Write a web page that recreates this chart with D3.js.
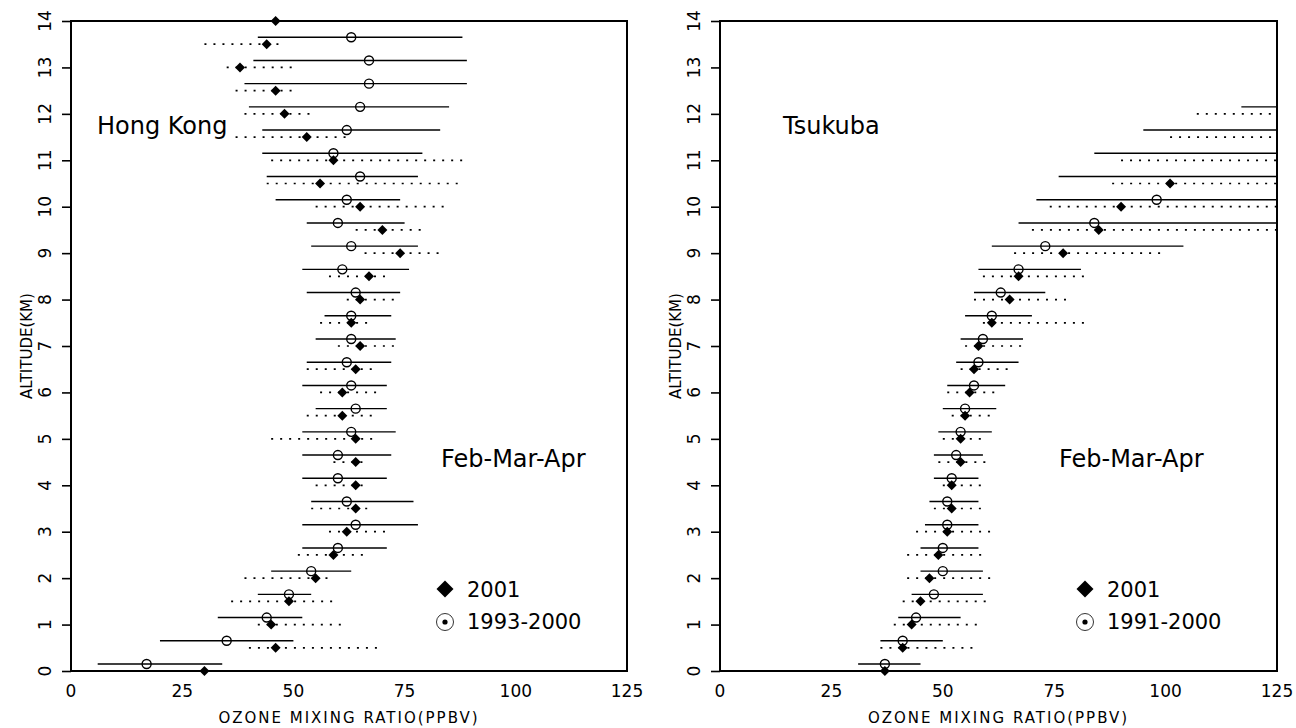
<!DOCTYPE html>
<html lang="en">
<head>
    <meta charset="UTF-8">
    <title>Ozone profiles Hong Kong / Tsukuba</title>
    <script src="https://cdn.jsdelivr.net/npm/d3@7"></script>
    <style>
        * { margin: 0; padding: 0; }
        body { background: #fff; }
        text { font-family: "DejaVu Sans", sans-serif; fill: #000; }
    </style>
</head>
<body>
<script>
    // altitude levels (km)
    const altitudes = [0, 0.5, 1, 1.5, 2, 2.5, 3, 3.5, 4, 4.5, 5, 5.5, 6, 6.5, 7, 7.5, 8, 8.5, 9, 9.5, 10, 10.5, 11, 11.5, 12, 12.5, 13, 13.5, 14];

    // Hong Kong, 1993-2000 mean and range
    const hkMeanClim = [17, 35, 44, 49, 54, 60, 64, 62, 60, 60, 63, 64, 63, 62, 63, 63, 64, 61, 63, 60, 62, 65, 59, 62, 65, 67, 67, 63, null];
    const hkLowClim  = [6, 20, 33, 42, 45, 52, 52, 54, 52, 52, 52, 55, 52, 53, 55, 57, 53, 52, 54, 53, 46, 44, 43, 43, 40, 39, 41, 42, null];
    const hkHighClim = [34, 50, 52, 54, 63, 71, 78, 77, 71, 72, 73, 71, 71, 72, 73, 72, 74, 76, 78, 75, 74, 78, 79, 83, 85, 89, 89, 88, null];
    // Hong Kong, 2001
    const hkMean2001 = [30, 46, 45, 49, 55, 59, 62, 64, 64, 64, 64, 61, 61, 64, 65, 63, 65, 67, 74, 70, 65, 56, 59, 53, 48, 46, 38, 44, 46];
    const hkLow2001  = [null, 40, 42, 36, 39, 51, 58, 54, 55, 59, 45, 53, 56, 53, 60, 56, 62, 58, 66, 64, 55, 44, 45, 37, 39, 37, 35, 30, null];
    const hkHigh2001 = [null, 69, 62, 60, 59, 66, 72, 68, 67, 66, 69, 68, 70, 68, 74, 68, 74, 72, 83, 80, 84, 88, 89, 63, 54, 51, 50, 48, null];

    // Tsukuba, 1991-2000 mean and range
    const tkMeanClim = [37, 41, 44, 48, 50, 50, 51, 51, 52, 53, 54, 55, 57, 58, 59, 61, 63, 67, 73, 84, 98, 130, 135, 140, 150, null, null, null, null];
    const tkLowClim  = [31, 36, 40, 43, 45, 45, 46, 47, 48, 48, 49, 50, 51, 53, 54, 55, 57, 58, 61, 67, 71, 76, 84, 95, 117, null, null, null, null];
    const tkHighClim = [45, 50, 54, 59, 59, 58, 58, 58, 58, 59, 61, 62, 64, 67, 68, 70, 73, 81, 104, 140, 140, 180, 185, 185, 185, null, null, null, null];
    // Tsukuba, 2001
    const tkMean2001 = [37, 41, 43, 45, 47, 49, 51, 52, 52, 54, 54, 55, 56, 57, 58, 61, 65, 67, 77, 85, 90, 101, 128, 130, 135, null, null, null, null];
    const tkLow2001  = [null, 36, 39, 41, 42, 42, 44, 48, 50, 49, 50, 52, 51, 54, 55, 59, 57, 59, 66, 70, 74, 88, 90, 101, 107, null, null, null, null];
    const tkHigh2001 = [null, 57, 58, 60, 61, 59, 61, 60, 59, 61, 59, 61, 63, 66, 69, 83, 79, 83, 100, 140, 140, 140, 170, 170, 170, null, null, null, null];

    const xTicks = [0, 25, 50, 75, 100, 125];
    const yTicks = [0, 1, 2, 3, 4, 5, 6, 7, 8, 9, 10, 11, 12, 13, 14];

    const width = 1296, height = 728;
    const plotTop = 21, plotBottom = 671;
    const svg = d3.select("body").append("svg").attr("width", width).attr("height", height)
        .style("display", "block");

    const diamond = (r) => d3.symbol(d3.symbolDiamond2, Math.pow(r / 0.62625, 2))();
    const xScales = [];

    function drawPanel(p) {
        const x = d3.scaleLinear().domain([0, 125]).range([p.x0, p.x1]);
        const y = d3.scaleLinear().domain([0, 14]).range([plotBottom, plotTop]);
        xScales.push(x);
        const g = svg.append("g");

        // y axis: outward ticks, rotated labels
        const ya = g.append("g").attr("transform", `translate(${p.x0},0)`)
            .call(d3.axisLeft(y).tickValues(yTicks).tickSize(9).tickSizeOuter(0).tickFormat(() => ""));
        ya.select(".domain").remove();
        ya.selectAll(".tick line").attr("stroke", "#000").attr("stroke-width", 1.6);
        g.append("g").selectAll("text")
            .data(yTicks)
            .join("text")
            .attr("transform", d => `translate(${p.x0 - 20},${y(d)}) rotate(-90)`)
            .attr("text-anchor", "middle")
            .style("font-size", "17px")
            .text(d => d);

        // frame
        g.append("rect")
            .attr("x", p.x0).attr("y", plotTop)
            .attr("width", p.x1 - p.x0).attr("height", plotBottom - plotTop)
            .attr("fill", "none").attr("stroke", "#000").attr("stroke-width", 2);

        // marks are cut at the right edge of the frame
        g.append("clipPath").attr("id", "clip" + p.id)
            .append("rect")
            .attr("x", p.x0).attr("y", 0)
            .attr("width", p.x1 - p.x0).attr("height", plotBottom + 10);

        const plot = g.append("g").attr("clip-path", `url(#clip${p.id})`);
        const rows = altitudes.map((a, i) => ({
            alt: a,
            mc: p.meanClim[i], lc: p.lowClim[i], hc: p.highClim[i],
            m1: p.mean2001[i], l1: p.low2001[i], h1: p.high2001[i]
        }));

        // 2001 dotted ranges
        plot.selectAll("line.r2001")
            .data(rows.filter(d => d.l1 != null))
            .join("line").attr("class", "r2001")
            .attr("x1", d => x(d.l1)).attr("x2", d => x(d.h1))
            .attr("y1", d => y(d.alt)).attr("y2", d => y(d.alt))
            .attr("stroke", "#000").attr("stroke-width", 1.7)
            .attr("stroke-dasharray", "2,7");

        // climatology solid ranges (drawn a little above the level)
        plot.selectAll("line.rclim")
            .data(rows.filter(d => d.lc != null))
            .join("line").attr("class", "rclim")
            .attr("x1", d => x(d.lc)).attr("x2", d => x(d.hc))
            .attr("y1", d => y(d.alt) - 7).attr("y2", d => y(d.alt) - 7)
            .attr("stroke", "#000").attr("stroke-width", 1.4);

        plot.selectAll("circle.mclim")
            .data(rows.filter(d => d.mc != null))
            .join("circle").attr("class", "mclim")
            .attr("cx", d => x(d.mc)).attr("cy", d => y(d.alt) - 7)
            .attr("r", 4.5)
            .attr("fill", "none").attr("stroke", "#000").attr("stroke-width", 1.4);

        plot.selectAll("path.m2001")
            .data(rows.filter(d => d.m1 != null))
            .join("path").attr("class", "m2001")
            .attr("transform", d => `translate(${x(d.m1)},${y(d.alt)})`)
            .attr("d", diamond(5))
            .attr("fill", "#000");

        // axis titles
        g.append("text")
            .attr("x", (p.x0 + p.x1) / 2).attr("y", 723)
            .attr("text-anchor", "middle")
            .style("font-size", "15px").style("letter-spacing", "2px")
            .text("OZONE MIXING RATIO(PPBV)");
        g.append("text")
            .attr("transform", `translate(${p.x0 - 39},${(plotTop + plotBottom) / 2}) rotate(-90)`)
            .attr("text-anchor", "middle")
            .style("font-size", "15px")
            .text("ALTITUDE(KM)");

        // station and season labels
        g.append("text").attr("x", p.x0 + p.nameDx).attr("y", 134)
            .style("font-size", "24px").text(p.name);
        g.append("text").attr("x", p.x0 + p.seasonDx).attr("y", 467)
            .style("font-size", "24px").text("Feb-Mar-Apr");

        // legend
        const lg = g.append("g").attr("transform", `translate(${p.x0 + p.legendDx},589)`);
        lg.append("path").attr("d", diamond(8.5)).attr("fill", "#000");
        lg.append("text").attr("x", 22).attr("y", 8).style("font-size", "21px").text("2001");
        lg.append("circle").attr("cy", 33).attr("r", 8.5)
            .attr("fill", "none").attr("stroke", "#000").attr("stroke-width", 0.8);
        lg.append("circle").attr("cy", 33).attr("r", 2.6).attr("fill", "#000");
        lg.append("text").attr("x", 22).attr("y", 40).style("font-size", "21px").text(p.climLabel);
    }

    drawPanel({
        id: 1, x0: 71, x1: 627, name: "Hong Kong", climLabel: "1993-2000",
        nameDx: 26, seasonDx: 370, legendDx: 374,
        meanClim: hkMeanClim, lowClim: hkLowClim, highClim: hkHighClim,
        mean2001: hkMean2001, low2001: hkLow2001, high2001: hkHigh2001
    });
    drawPanel({
        id: 2, x0: 720, x1: 1277, name: "Tsukuba", climLabel: "1991-2000",
        nameDx: 63, seasonDx: 339, legendDx: 365,
        meanClim: tkMeanClim, lowClim: tkLowClim, highClim: tkHighClim,
        mean2001: tkMean2001, low2001: tkLow2001, high2001: tkHigh2001
    });

    // x axis labels of both panels, no tick marks
    const xLabelRows = xScales.flatMap(x => xTicks.map(t => ({ t, px: x(t) })));
    svg.append("g").selectAll("text")
        .data(xLabelRows)
        .join("text")
        .attr("x", d => d.px).attr("y", plotBottom + 26)
        .attr("text-anchor", "middle")
        .style("font-size", "17px")
        .text(d => String(d.t));
</script>
</body>
</html>
